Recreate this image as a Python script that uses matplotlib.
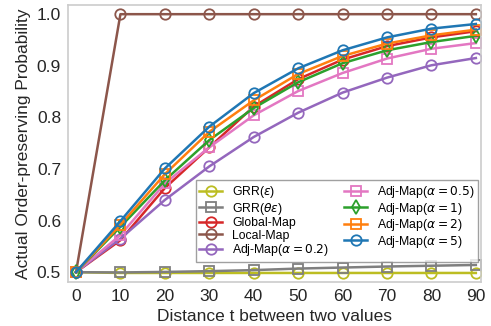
import numpy as np
import matplotlib.pyplot as plt

plt.rcParams['font.family'] = ['Liberation Sans', 'DejaVu Sans']
plt.rcParams['mathtext.fontset'] = 'dejavusans'

distance = [0, 10, 20, 30, 40, 50, 60, 70, 80, 90]

grr_eps = [0.5, 0.4985, 0.4985, 0.4985, 0.4985, 0.4985, 0.4985, 0.4985, 0.4985, 0.4985]
grr_theta_eps = [0.5, 0.4995, 0.5005, 0.502, 0.504, 0.507, 0.509, 0.511, 0.5125, 0.514]
global_map = [0.5, 0.562, 0.663, 0.742, 0.821, 0.874, 0.912, 0.938, 0.955, 0.967]
local_map = [0.5, 1.0, 1.0, 1.0, 1.0, 1.0, 1.0, 1.0, 1.0, 1.0]
adj_02 = [0.5, 0.565, 0.64, 0.705, 0.762, 0.809, 0.848, 0.877, 0.901, 0.915]
adj_05 = [0.5, 0.572, 0.672, 0.742, 0.804, 0.851, 0.886, 0.914, 0.933, 0.944]
adj_1 = [0.5, 0.588, 0.678, 0.756, 0.818, 0.868, 0.905, 0.930, 0.946, 0.958]
adj_2 = [0.5, 0.592, 0.69, 0.772, 0.833, 0.884, 0.919, 0.943, 0.959, 0.970]
adj_5 = [0.5, 0.599, 0.701, 0.782, 0.847, 0.895, 0.930, 0.955, 0.972, 0.981]

series = [
    (grr_eps, r'GRR($\epsilon$)', 'tab:olive', 'o'),
    (grr_theta_eps, r'GRR($\theta\epsilon$)', 'tab:gray', 's'),
    (global_map, 'Global-Map', 'tab:red', 'o'),
    (local_map, 'Local-Map', 'tab:brown', 'o'),
    (adj_02, r'Adj-Map($\alpha=0.2$)', 'tab:purple', 'o'),
    (adj_05, r'Adj-Map($\alpha=0.5$)', 'tab:pink', 's'),
    (adj_1, r'Adj-Map($\alpha=1$)', 'tab:green', 'd'),
    (adj_2, r'Adj-Map($\alpha=2$)', 'tab:orange', 's'),
    (adj_5, r'Adj-Map($\alpha=5$)', 'tab:blue', 'o'),
]

fig = plt.figure(figsize=(4.91, 3.26), dpi=100)
ax = fig.add_axes([0.1385, 0.135, 0.8415, 0.85])

for vals, label, color, marker in series:
    ax.plot(distance, vals, color=color, marker=marker, markersize=7.5,
            fillstyle='none', markeredgewidth=1.3, linewidth=1.8, label=label)

ax.set_xlim(-1.8, 91.2)
ax.set_ylim(0.481, 1.018)
ax.set_xticks(distance)
ax.set_yticks([0.5, 0.6, 0.7, 0.8, 0.9, 1.0])
ax.tick_params(length=0, labelsize=12.5, pad=5, colors='#262626')
for s in ax.spines.values():
    s.set_color('#cccccc')
    s.set_linewidth(1.2)

ax.set_xlabel('Distance t between two values', fontsize=12.5, color='#262626')
ax.set_ylabel('Actual Order-preserving Probability', fontsize=12.5, color='#262626')

leg = ax.legend(ncol=2, loc='lower right', bbox_to_anchor=(0.993, 0.072),
                borderaxespad=0, fontsize=8.8, fancybox=False,
                edgecolor='#888888', handlelength=1.9, columnspacing=1.2,
                labelspacing=0.05, handletextpad=0.8, borderpad=0.3)
leg.get_frame().set_linewidth(1.0)

fig.savefig('out.png', dpi=100)
